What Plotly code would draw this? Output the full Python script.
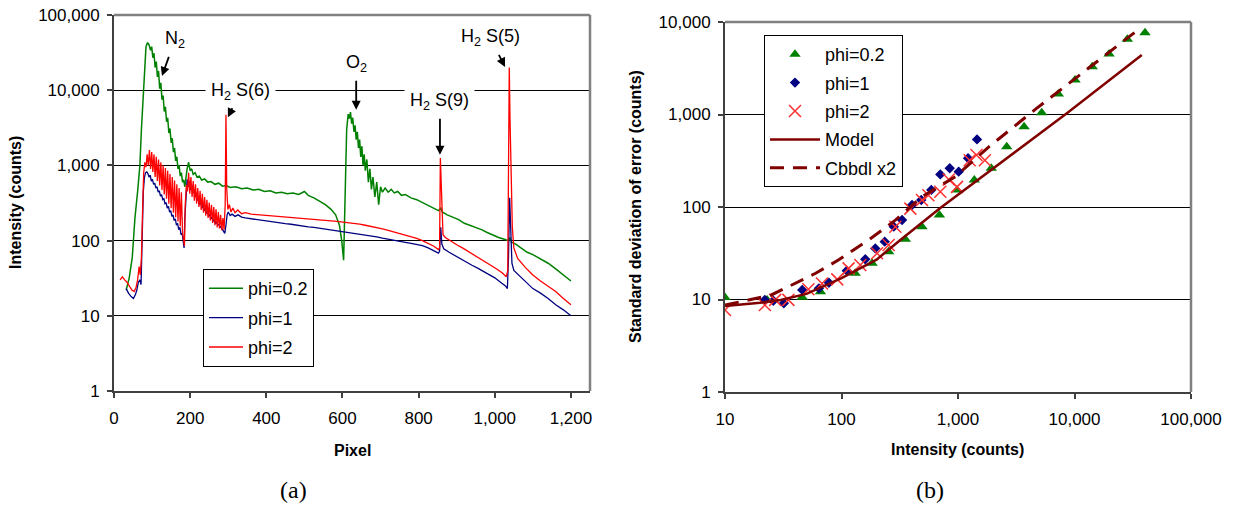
import plotly.graph_objects as go

# ---------------- data: (a) spectra, (pixel, intensity) pairs
green_spectrum = [(32,22),(40,32),(48,60),(55,200),(62,450),(68,1000),(72,3000),(76,7000),(80,20000),(84,38000),(88,43000),(92,40000),(96,34000),(99,38000),(102,27000),(105,31000),(108,20000),(111,24000),(114,15000),(117,18000),(120,10500),(123,12500),(126,7500),(129,8500),(132,5200),(135,6000),(138,3800),(141,4300),(144,2700),(147,3100),(150,2000),(153,2300),(156,1500),(159,1700),(162,1150),(165,1300),(168,900),(171,1000),(174,720),(177,800),(180,600),(183,640),(186,520),(189,700),(192,900),(196,1100),(200,850),(204,900),(208,760),(213,800),(218,700),(224,720),(230,640),(238,660),(246,600),(255,610),(265,560),(275,580),(285,530),(295,540),(305,510),(320,520),(335,490),(350,500),(365,470),(380,480),(395,450),(410,460),(425,430),(440,440),(455,420),(470,430),(485,410),(500,450),(510,400),(525,370),(540,330),(555,300),(570,260),(582,220),(592,160),(598,100),(603,55),(607,400),(611,3000),(615,4800),(618,4200),(621,5100),(624,3600),(627,4300),(630,2800),(633,3400),(636,2200),(639,2800),(642,1700),(645,2200),(648,1300),(651,1800),(654,1000),(657,1400),(660,850),(664,1200),(668,600),(672,900),(676,480),(680,700),(685,380),(690,600),(695,300),(700,520),(705,440),(712,500),(720,440),(728,480),(736,430),(745,450),(755,400),(765,410),(780,370),(795,350),(810,320),(825,300),(840,270),(852,250),(858,270),(862,240),(875,220),(890,205),(905,190),(920,170),(935,160),(950,150),(965,140),(980,128),(995,118),(1010,110),(1025,104),(1036,100),(1040,110),(1044,95),(1055,90),(1070,80),(1085,70),(1100,65),(1120,57),(1140,50),(1160,42),(1180,35),(1200,29)]

blue_spectrum = [(32,23),(38,20),(45,18),(51,17),(56,19),(60,22),(64,28),(68,30),(71,26),(74,100),(77,450),(80,700),(83,800),(86,820),(89,780),(92,700),(95,740),(98,620),(101,650),(104,560),(107,580),(110,500),(113,520),(116,440),(119,460),(122,390),(125,410),(128,350),(131,360),(134,310),(137,320),(140,270),(143,285),(146,240),(149,250),(152,210),(155,220),(158,185),(161,195),(164,160),(167,170),(170,140),(173,150),(176,120),(179,125),(182,95),(184,80),(186,200),(189,450),(192,650),(195,520),(198,620),(201,470),(204,560),(207,430),(210,480),(213,380),(216,430),(219,340),(222,380),(225,300),(228,340),(231,270),(234,300),(237,250),(240,270),(243,230),(246,245),(249,210),(252,225),(255,195),(258,205),(261,180),(264,190),(267,170),(270,175),(273,160),(276,165),(279,150),(282,155),(285,140),(288,130),(291,125),(294,160),(297,220),(300,240),(305,215),(310,225),(318,210),(326,220),(335,205),(345,200),(360,195),(375,190),(390,182),(405,180),(420,175),(435,172),(450,168),(465,165),(480,160),(495,157),(510,152),(525,150),(540,146),(555,143),(570,140),(585,136),(600,133),(615,130),(630,127),(645,123),(660,118),(675,115),(690,112),(705,108),(720,104),(735,101),(750,98),(765,95),(780,92),(795,89),(810,86),(825,80),(840,74),(852,68),(855,72),(858,150),(861,90),(866,78),(880,70),(895,63),(910,57),(925,52),(940,47),(955,43),(970,39),(985,35),(1000,32),(1015,28),(1028,25),(1033,23),(1036,60),(1039,370),(1042,150),(1045,50),(1050,40),(1060,36),(1080,29),(1100,23),(1120,20),(1140,17),(1160,14),(1180,12),(1200,10)]

red_spectrum = [(16,30),(22,33),(28,30),(34,28),(40,25),(47,22),(53,21),(58,24),(62,30),(66,45),(69,35),(72,60),(75,250),(78,800),(81,1100),(84,950),(87,1400),(90,1000),(93,1600),(96,900),(99,1500),(102,820),(105,1400),(108,700),(111,1300),(114,620),(117,1200),(120,540),(123,1100),(126,470),(129,1000),(132,410),(135,920),(138,360),(141,850),(144,310),(147,770),(150,270),(153,700),(156,235),(159,630),(162,205),(165,560),(168,180),(171,500),(174,155),(177,440),(180,130),(183,100),(185,85),(187,300),(190,550),(193,450),(196,800),(199,420),(202,700),(205,380),(208,620),(211,340),(214,560),(217,310),(220,500),(223,280),(226,460),(229,255),(232,420),(235,235),(238,380),(241,215),(244,350),(247,200),(250,320),(253,185),(256,300),(259,172),(262,280),(265,160),(268,260),(271,150),(274,240),(277,145),(280,220),(283,138),(286,200),(289,140),(292,300),(294,4700),(296,500),(299,260),(303,300),(307,240),(312,270),(318,235),(325,255),(335,228),(345,235),(360,225),(375,222),(390,218),(405,215),(420,212),(435,210),(450,206),(465,204),(480,200),(495,198),(510,194),(525,192),(540,188),(555,186),(570,183),(585,180),(600,177),(615,174),(630,170),(645,166),(660,160),(675,155),(690,150),(705,143),(720,137),(735,131),(750,125),(765,119),(780,113),(795,107),(810,100),(825,92),(840,84),(852,76),(855,80),(857,1250),(860,320),(864,120),(870,110),(885,98),(900,88),(915,80),(930,72),(945,65),(960,58),(975,52),(990,47),(1005,42),(1020,37),(1030,33),(1034,40),(1036,1500),(1038,20000),(1040,4000),(1043,600),(1046,150),(1050,80),(1060,58),(1080,44),(1100,35),(1120,29),(1140,25),(1160,21),(1180,17),(1200,14)]

# ---------------- data: (b) standard deviation of error vs intensity
g_int = [10, 23, 46, 66, 131, 183, 254, 353, 491, 692, 980, 1380, 1930, 2620, 3690, 5230, 7260, 10100, 14200, 19800, 28400, 40300]
g_std = [10.5, 9.9, 10.6, 12.1, 19.2, 24.6, 32.9, 44.7, 61.3, 82, 153, 196, 262, 449, 738, 1045, 1667, 2360, 3290, 4510, 6500, 7650]

b_int = [22, 26, 32, 46, 64, 78, 111, 160, 195, 235, 281, 331, 403, 484, 590, 705, 849, 1014, 1219, 1456]
b_std = [9.9, 9.7, 9.1, 12.7, 13.2, 15.2, 20.5, 27.2, 35.7, 42.2, 61.3, 72.3, 105, 119, 153, 225, 262, 241, 336, 538]

r_int = [10, 22, 27, 35, 52, 68, 92, 115, 145, 202, 254, 290, 390, 491, 557, 705, 833, 980, 1260, 1440, 1700]
r_std = [7.7, 8.7, 9.9, 9.9, 12.9, 14.9, 16.5, 21.7, 23.6, 31.6, 38.9, 61.3, 96, 119, 134, 146, 198, 165, 320, 365, 320]

model_int = [10, 20, 30, 50, 100, 200, 320, 700, 8600, 37800]
model_std = [8.5, 9.2, 9.9, 11.5, 17, 27, 44, 97, 1030, 4400]

cbbdl_int = [10, 25, 60, 94, 171, 290, 491, 950, 1850, 4750, 36500]
cbbdl_std = [8.7, 11.2, 19.2, 26.7, 44, 72, 129, 213, 449, 1170, 8550]

pix_ticks = [0, 200, 400, 600, 800, 1000, 1200]
dec5 = [1, 10, 100, 1000, 10000, 100000]
dec_int = [10, 100, 1000, 10000, 100000]
dec_std = [1, 10, 100, 1000, 10000]


def fmt(v):
    return f"{v:,}"


W, H = 1233, 506
FONT = "Liberation Sans"

fig = go.Figure()

spectra = [("phi=0.2", green_spectrum, "#008000", 1.5),
           ("phi=1", blue_spectrum, "#000080", 1.3),
           ("phi=2", red_spectrum, "#ff0000", 1.3)]
for name, data, col, w in spectra:
    fig.add_trace(go.Scatter(x=[p[0] for p in data], y=[p[1] for p in data], mode="lines",
                             name=name, line=dict(color=col, width=w),
                             xaxis="x", yaxis="y", legend="legend", legendgroup=name))

fig.add_trace(go.Scatter(x=g_int, y=g_std, mode="markers", name="phi=0.2",
                         marker=dict(symbol="triangle-up", size=10, color="#008000"),
                         xaxis="x2", yaxis="y2", legend="legend2", legendgroup="b1"))
fig.add_trace(go.Scatter(x=b_int, y=b_std, mode="markers", name="phi=1",
                         marker=dict(symbol="diamond", size=8, color="#000080"),
                         xaxis="x2", yaxis="y2", legend="legend2", legendgroup="b2"))
fig.add_trace(go.Scatter(x=r_int, y=r_std, mode="markers", name="phi=2",
                         marker=dict(symbol="x-thin", size=12, color="#ff3030",
                                     line=dict(color="#ff3030", width=1.5)),
                         xaxis="x2", yaxis="y2", legend="legend2", legendgroup="b3"))
fig.add_trace(go.Scatter(x=model_int, y=model_std, mode="lines", name="Model",
                         line=dict(color="#800000", width=2.5),
                         xaxis="x2", yaxis="y2", legend="legend2", legendgroup="b4"))
fig.add_trace(go.Scatter(x=cbbdl_int, y=cbbdl_std, mode="lines", name="Cbbdl x2",
                         line=dict(color="#800000", width=3, dash="14px,9px"),
                         xaxis="x2", yaxis="y2", legend="legend2", legendgroup="b5"))

# plot-area pixel boxes
L1, R1, T1, B1 = 114, 590, 15, 391
L2, R2, T2, B2 = 725, 1191, 22, 392

tickfont = dict(family=FONT, size=17, color="black")
common = dict(showline=True, linecolor="#404040", linewidth=2, ticks="outside", ticklen=5,
              tickcolor="#404040", tickwidth=1.5, tickfont=tickfont, zeroline=False,
              automargin=False)

fig.update_layout(
    template="none",
    width=W, height=H, autosize=False, margin=dict(l=0, r=0, t=0, b=0, pad=0),
    paper_bgcolor="white", plot_bgcolor="white",
    font=dict(family=FONT, size=17, color="black"),
    xaxis=dict(domain=[L1 / W, R1 / W], range=[0, 1250], tickvals=pix_ticks,
               ticktext=[fmt(v) for v in pix_ticks], showgrid=False, anchor="y",
               ticklabelstandoff=6, **common),
    yaxis=dict(domain=[1 - B1 / H, 1 - T1 / H], type="log", range=[0, 5], tickvals=dec5,
               ticktext=[fmt(v) for v in dec5], showgrid=True, gridcolor="black", gridwidth=1,
               anchor="x", ticklabelstandoff=4, **common),
    xaxis2=dict(domain=[L2 / W, R2 / W], type="log", range=[1, 5], tickvals=dec_int,
                ticktext=[fmt(v) for v in dec_int], showgrid=False, anchor="y2",
                ticklabelstandoff=6, **common),
    yaxis2=dict(domain=[1 - B2 / H, 1 - T2 / H], type="log", range=[0, 4], tickvals=dec_std,
                ticktext=[fmt(v) for v in dec_std], showgrid=True, gridcolor="black", gridwidth=1,
                anchor="x2", ticklabelstandoff=4, **common),
    legend=dict(x=203 / W, y=1 - 269 / H, xanchor="left", yanchor="top", bgcolor="white",
                bordercolor="black", borderwidth=1, font=dict(family=FONT, size=18),
                traceorder="grouped", tracegroupgap=3, itemwidth=34),
    legend2=dict(x=764 / W, y=1 - 35 / H, xanchor="left", yanchor="top", bgcolor="white",
                 bordercolor="black", borderwidth=1, font=dict(family=FONT, size=18),
                 traceorder="grouped", tracegroupgap=2, itemwidth=50),
    showlegend=True,
)

# gray plot-area border (top/right)
for (l, r, t, b) in [(L1, R1, T1, B1), (L2, R2, T2, B2)]:
    fig.add_shape(type="line", xref="paper", yref="paper", x0=l / W, x1=r / W, y0=1 - t / H,
                  y1=1 - t / H, line=dict(color="#808080", width=2.5))
    fig.add_shape(type="line", xref="paper", yref="paper", x0=r / W, x1=r / W, y0=1 - t / H,
                  y1=1 - b / H, line=dict(color="#808080", width=2.5))

# peak labels on (a): text at tail, arrow to peak (y given as log10 for log axis)
afont = dict(family=FONT, size=18, color="black")
peaks = [("N<sub>2</sub>", 126, 4.19, 13, -36, None),
         ("H<sub>2</sub> S(6)", 299, 3.64, 13, -26, "white"),
         ("O<sub>2</sub>", 636, 3.74, 0, -46, None),
         ("H<sub>2</sub> S(9)", 856, 3.14, 0, -53, "white"),
         ("H<sub>2</sub> S(5)", 1027, 4.31, -15, -29, None)]
for txt, px, ly, ax, ay, bg in peaks:
    fig.add_annotation(x=px, y=ly, xref="x", yref="y", text=txt, showarrow=True,
                       ax=ax, ay=ay, arrowhead=2, arrowsize=1, arrowwidth=1.8,
                       arrowcolor="black", font=afont, bgcolor=bg, borderpad=5, standoff=0)

# axis titles
titles = [("<b>Pixel</b>", 352, 450, 0), ("<b>Intensity (counts)</b>", 957, 449, 0),
          ("<b>Intensity (counts)</b>", 15, 203, -90),
          ("<b>Standard deviation of error (counts)</b>", 635, 207, -90)]
for txt, x, y, ang in titles:
    fig.add_annotation(x=x / W, y=1 - y / H, xref="paper", yref="paper", text=txt,
                       showarrow=False, textangle=ang, font=dict(family=FONT, size=16),
                       xanchor="center", yanchor="middle")

for txt, x in [("(a)", 293), ("(b)", 930)]:
    fig.add_annotation(x=x / W, y=1 - 490 / H, xref="paper", yref="paper", text=txt,
                       showarrow=False, font=dict(family="Liberation Serif", size=24, color="black"),
                       xanchor="center", yanchor="middle")

fig.write_html("out.html", config={"displayModeBar": False},
               post_script="document.body.style.margin='0';document.body.style.overflow='hidden';")
